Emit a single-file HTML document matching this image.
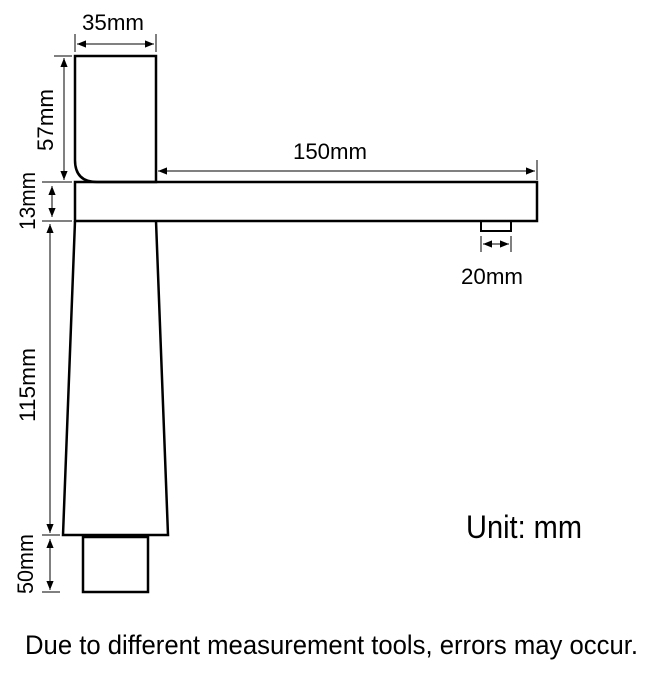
<!DOCTYPE html>
<html><head><meta charset="utf-8"><style>
html,body{margin:0;padding:0;background:#fff;}
svg{display:block;}
text{font-family:"Liberation Sans Narrow","Liberation Sans",sans-serif;fill:#000;}
</style></head><body>
<svg width="654" height="676" viewBox="0 0 654 676" xmlns="http://www.w3.org/2000/svg">
<defs>
<marker id="a" viewBox="0 0 10 10" refX="10" refY="5" markerWidth="9" markerHeight="9" orient="auto-start-reverse" markerUnits="userSpaceOnUse"><path d="M0,1 L10,5 L0,9 z" fill="#000"/></marker>
</defs>
<g fill="none" stroke="#000" stroke-width="2.5">
<path d="M75,56 H156 V182 H97 Q75,182 75,160 Z"/>
<rect x="75" y="182" width="462" height="39"/>
<rect x="481" y="221" width="30" height="10" stroke-width="2"/>
<path d="M75,221 L63,535 H168 L156,221"/>
<rect x="83" y="537" width="65" height="55"/>
</g>
<g stroke="#000" stroke-width="1" fill="none">
<line x1="75" y1="34" x2="75" y2="52"/><line x1="156" y1="34" x2="156" y2="52"/>
<line x1="77" y1="44" x2="154" y2="44" marker-start="url(#a)" marker-end="url(#a)"/>
<line x1="54" y1="56" x2="72" y2="56"/><line x1="54" y1="182" x2="72" y2="182"/>
<line x1="64" y1="58" x2="64" y2="180" marker-start="url(#a)" marker-end="url(#a)"/>
<line x1="42" y1="221" x2="72" y2="221"/><line x1="42" y1="182" x2="72" y2="182"/>
<line x1="52" y1="186" x2="52" y2="217" marker-start="url(#a)" marker-end="url(#a)"/>
<line x1="50" y1="224" x2="50" y2="533" marker-start="url(#a)" marker-end="url(#a)"/>
<line x1="42" y1="535" x2="60" y2="535"/>
<line x1="42" y1="592" x2="60" y2="592"/>
<line x1="50" y1="539" x2="50" y2="590" marker-start="url(#a)" marker-end="url(#a)"/>
<line x1="158" y1="171" x2="535" y2="171" marker-start="url(#a)" marker-end="url(#a)"/>
<line x1="537" y1="160" x2="537" y2="180"/>
<line x1="481" y1="236" x2="481" y2="252"/><line x1="511" y1="236" x2="511" y2="252"/>
<line x1="483" y1="244" x2="509" y2="244" marker-start="url(#a)" marker-end="url(#a)"/>
</g>
<text x="113" y="30" font-size="22" text-anchor="middle" textLength="62" lengthAdjust="spacingAndGlyphs">35mm</text>
<text x="330" y="159" font-size="22" text-anchor="middle" textLength="74" lengthAdjust="spacingAndGlyphs">150mm</text>
<text x="492" y="284" font-size="22" text-anchor="middle" textLength="62" lengthAdjust="spacingAndGlyphs">20mm</text>
<text transform="translate(53,120) rotate(-90)" font-size="22" text-anchor="middle" textLength="62" lengthAdjust="spacingAndGlyphs">57mm</text>
<text transform="translate(35,201) rotate(-90)" font-size="22" text-anchor="middle" textLength="58" lengthAdjust="spacingAndGlyphs">13mm</text>
<text transform="translate(35,385) rotate(-90)" font-size="22" text-anchor="middle" textLength="74" lengthAdjust="spacingAndGlyphs">115mm</text>
<text transform="translate(33,564) rotate(-90)" font-size="22" text-anchor="middle" textLength="60" lengthAdjust="spacingAndGlyphs">50mm</text>
<text x="466" y="538" font-size="32" textLength="116" lengthAdjust="spacingAndGlyphs">Unit: mm</text>
<text x="25" y="654" font-size="27" textLength="613" lengthAdjust="spacingAndGlyphs">Due to different measurement tools, errors may occur.</text>
</svg>
</body></html>
